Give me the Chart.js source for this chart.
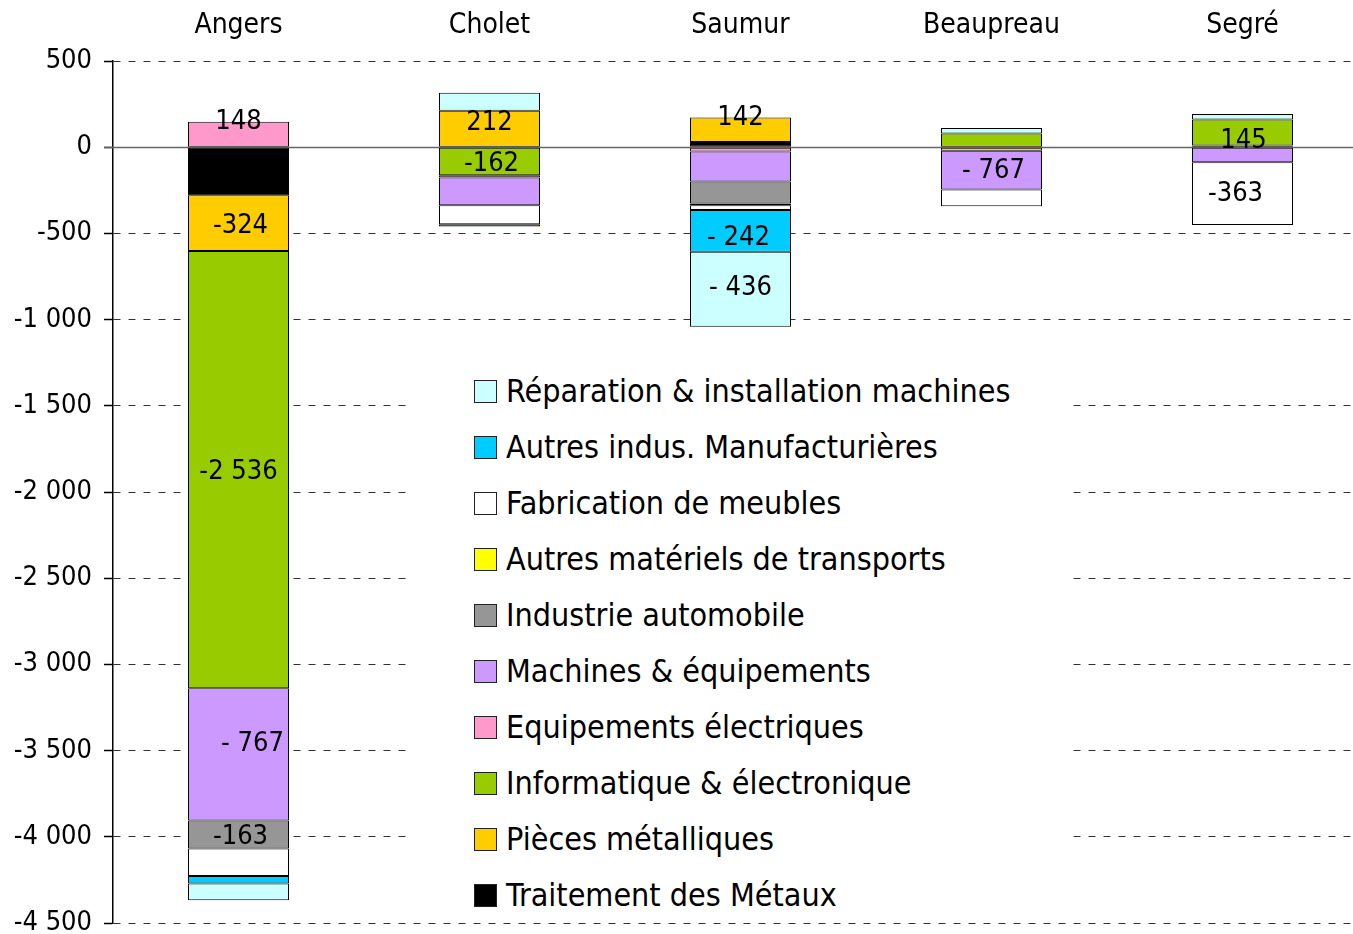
<!DOCTYPE html>
<html>
<head>
<meta charset="utf-8">
<script src="https://cdn.jsdelivr.net/npm/chart.js@4.4.1/dist/chart.umd.min.js"></script>
<style>
  html, body { margin: 0; padding: 0; background: #fff; overflow: hidden; width: 1353px; height: 934px; }
  #wrap { position: relative; width: 1368px; height: 934px; }
  canvas { display: block; }
  #legend {
    position: absolute; left: 410px; top: 364px; width: 658px; height: 554px; background: #fff;
    font-family: "DejaVu Sans Condensed", "DejaVu Sans", sans-serif; font-stretch: condensed;
    font-size: 32px; color: #000;
  }
  .item { position: absolute; left: 64px; height: 30px; display: flex; align-items: center; white-space: nowrap; }
  .box { width: 21px; height: 21px; border: 1px solid #222; margin-right: 9px; flex: none; }
</style>
</head>
<body>
<div id="wrap">
  <canvas id="c" width="1368" height="934"></canvas>
  <div id="legend"></div>
</div>
<script>
// ---- Data ----
const categories = ['Angers', 'Cholet', 'Saumur', 'Beaupreau', 'Segré'];

const seriesNames = [
  'Traitement des Métaux',
  'Pièces métalliques',
  'Informatique & électronique',
  'Equipements électriques',
  'Machines & équipements',
  'Industrie automobile',
  'Autres matériels de transports',
  'Fabrication de meubles',
  'Autres indus. Manufacturières',
  'Réparation & installation machines'
];

const traitementMetaux   = [-278, null,   30, null,   10];
const piecesMetalliques  = [-324,  212,  142,  -20, null];
const informatique       = [-2536, -162, null,  80,  150];
const equipElectriques   = [ 148,  -14,  -25, null, null];
const machines           = [-767, -160, -174, -226,  -87];
const industrieAuto      = [-163, null, -128, null, null];
const autresTransports   = [null, null,  -10, null, null];
const meubles            = [-159, -111,  -27,  -97, -365];
const autresIndus        = [ -44,  -13, -242, null, null];
const reparation         = [ -97,  104, -436,   31,   33];

const seriesValues = [traitementMetaux, piecesMetalliques, informatique, equipElectriques, machines,
                      industrieAuto, autresTransports, meubles, autresIndus, reparation];

const yTickValues = [500, 0, -500, -1000, -1500, -2000, -2500, -3000, -3500, -4000, -4500];
const yTickLabels = ['500', '0', '-500', '-1 000', '-1 500', '-2 000', '-2 500', '-3 000', '-3 500', '-4 000', '-4 500'];

// data labels: series index, category index, text
const labelSeries = [3, 1, 2, 4, 5, 1, 2, 1, 8, 9, 4, 2, 7];
const labelCats   = [0, 0, 0, 0, 0, 1, 1, 2, 2, 2, 3, 4, 4];
const labelTexts  = ['148', '-324', '-2 536', '- 767', '-163', '212', '-162', '142', '- 242', '- 436', '- 767', '145', '-363'];

// ---- Styles ----
const seriesColors = ['#000000', '#FFCC00', '#99CC00', '#FF99CC', '#CC99FF',
                      '#969696', '#FFFF00', '#FFFFFF', '#00CCFF', '#CCFFFF'];
const labelOffsets = [[0, -12], [2, 3], [0, 2], [14, -10], [2, 3], [0, -6], [2, 3], [0, -12],
                      [-2, 7], [0, -1], [2, 1], [1, 8], [-7, 0]];
const FONT = "'DejaVu Sans Condensed', 'DejaVu Sans', sans-serif";
const FSIZE = 27;

const datasets = seriesNames.map((name, i) => ({
  label: name,
  data: seriesValues[i],
  backgroundColor: seriesColors[i],
  borderColor: '#000',
  borderWidth: 1,
  borderSkipped: false,
  barThickness: 101,
  inflateAmount: 0
}));

const zeroLinePlugin = {
  id: 'zeroLine',
  beforeDatasetsDraw(chart) {
    const y = Math.round(chart.scales.y.getPixelForValue(0)) + 0.5;
    const ctx = chart.ctx;
    ctx.save();
    ctx.strokeStyle = '#666';
    ctx.lineWidth = 1.5;
    ctx.beginPath();
    ctx.moveTo(chart.chartArea.left - 9, y);
    ctx.lineTo(chart.chartArea.right, y);
    ctx.stroke();
    ctx.restore();
  }
};

const barLabelPlugin = {
  id: 'barLabels',
  afterDatasetsDraw(chart) {
    const ctx = chart.ctx;
    ctx.save();
    ctx.font = `condensed ${FSIZE}px ${FONT}`;
    ctx.fillStyle = '#000';
    ctx.textAlign = 'center';
    ctx.textBaseline = 'middle';
    labelTexts.forEach((t, k) => {
      const el = chart.getDatasetMeta(labelSeries[k]).data[labelCats[k]];
      if (!el) return;
      const x = el.x + labelOffsets[k][0];
      const y = (el.y + el.base) / 2 + labelOffsets[k][1];
      ctx.fillText(t, x, y);
    });
    ctx.restore();
  }
};

const chart = new Chart(document.getElementById('c'), {
  type: 'bar',
  data: { labels: categories, datasets },
  options: {
    responsive: false,
    animation: false,
    layout: { padding: { left: 0, right: 0, top: 0, bottom: 11 } },
    plugins: { legend: { display: false }, tooltip: { enabled: false } },
    scales: {
      x: {
        stacked: true,
        position: 'top',
        grid: { display: false, drawTicks: false },
        border: { display: false },
        ticks: { color: '#000', font: { family: FONT, size: 28 }, padding: 18 },
        afterFit(scale) { scale.height = 61; }
      },
      y: {
        stacked: true,
        min: -4500,
        max: 500,
        afterBuildTicks(scale) { scale.ticks = yTickValues.map(v => ({ value: v })); },
        grid: {
          color: (c) => (c.tick && c.tick.value === 0 ? 'rgba(0,0,0,0)' : '#333'),
          lineWidth: 1, drawTicks: true, tickLength: 9, tickColor: '#000', tickWidth: 1.5
        },
        border: { display: true, color: '#000', width: 1.5, dash: [7, 8] },
        ticks: {
          color: '#000', font: { family: FONT, size: FSIZE }, padding: 12,
          callback(v) { const i = yTickValues.indexOf(v); return i >= 0 ? yTickLabels[i] : ''; }
        },
        afterFit(scale) { scale.width = 113; scale.paddingTop = 0; scale.paddingBottom = 0; }
      }
    }
  },
  plugins: [zeroLinePlugin, barLabelPlugin]
});

// HTML legend built from the chart datasets (reverse order like the original)
const legendEl = document.getElementById('legend');
chart.data.datasets.slice().reverse().forEach((ds, i) => {
  const item = document.createElement('div');
  item.className = 'item';
  item.style.top = (12 + i * 56) + 'px';
  const box = document.createElement('span');
  box.className = 'box';
  box.style.background = ds.backgroundColor;
  const txt = document.createElement('span');
  txt.textContent = ds.label;
  item.appendChild(box);
  item.appendChild(txt);
  legendEl.appendChild(item);
});
</script>
</body>
</html>
